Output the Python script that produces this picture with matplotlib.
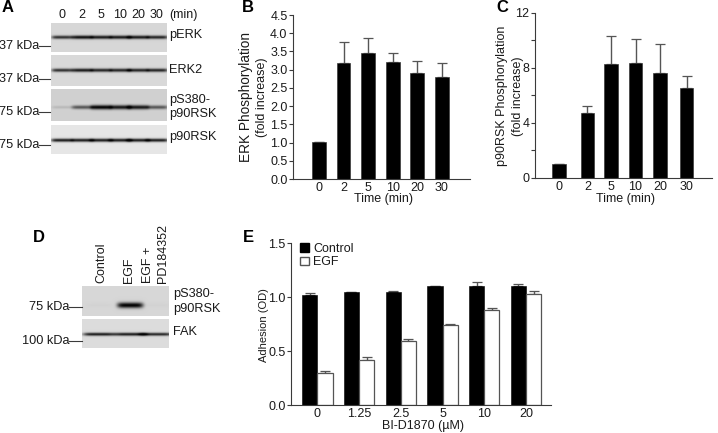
import numpy as np
import matplotlib
matplotlib.use('Agg')
import matplotlib.pyplot as plt
from matplotlib.patches import Patch

plt.rcParams['font.family'] = ['Liberation Sans', 'DejaVu Sans']
plt.rcParams['font.size'] = 9
plt.rcParams['mathtext.default'] = 'regular'

W, H = 718, 433
AXC = '#3a3a3a'
ERRC = '#555555'
TXT = '#1a1a1a'

# panel B
times = ['0', '2', '5', '10', '20', '30']
erk_vals = [1.01, 3.17, 3.47, 3.22, 2.92, 2.79]
erk_tops = [1.01, 3.75, 3.88, 3.47, 3.25, 3.17]
erk_ticks = [0.0, 0.5, 1.0, 1.5, 2.0, 2.5, 3.0, 3.5, 4.0, 4.5]

# panel C
rsk_x = [0, 1.16, 2.12, 3.12, 4.12, 5.2]
rsk_vals = [1.0, 4.7, 8.26, 8.38, 7.63, 6.55]
rsk_tops = [1.0, 5.24, 10.34, 10.07, 9.7, 7.44]

# panel E
doses = ['0', '1.25', '2.5', '5', '10', '20']
ctrl_vals = [1.02, 1.05, 1.05, 1.10, 1.10, 1.10]
ctrl_tops = [1.04, 1.05, 1.06, 1.10, 1.14, 1.12]
egf_vals = [0.294, 0.418, 0.591, 0.74, 0.876, 1.03]
egf_tops = [0.313, 0.446, 0.61, 0.752, 0.898, 1.059]

# blots, band strength per lane (0-1)
lanes_a = [62, 82, 101, 120, 138, 157]
perk = [0.8, 0.95, 0.9, 0.9, 0.9, 0.85]
erk2 = [0.8, 0.9, 0.85, 0.85, 0.85, 0.85]
ps380 = [0.12, 0.6, 1.0, 0.9, 0.9, 0.6]
p90 = [0.9, 0.9, 0.9, 0.9, 0.9, 0.9]
lanes_d = [99, 130, 156]
ps380_d = [0.02, 1.0, 0.02]
fak = [0.9, 0.9, 0.85]


def px_axes(fig, left, right, top, bottom):
    return fig.add_axes([left / W, 1 - bottom / H, (right - left) / W, (bottom - top) / H])


def style(ax):
    ax.patch.set_alpha(0)
    ax.spines['top'].set_visible(False)
    ax.spines['right'].set_visible(False)
    for s in ['left', 'bottom']:
        ax.spines[s].set_color(AXC)
        ax.spines[s].set_linewidth(0.8)
    ax.tick_params(axis='y', length=3, width=0.8, color=AXC, pad=1, labelsize=9, labelcolor=TXT)
    ax.tick_params(axis='x', length=0, pad=2, labelsize=9, labelcolor=TXT)


def errs(ax, x, vals, tops, cap):
    up = np.array(tops) - np.array(vals)
    ax.errorbar(x, vals, yerr=[np.zeros(len(up)), up], fmt='none', ecolor=ERRC,
                elinewidth=1, capsize=cap, capthick=0.9, zorder=1)


def blot(ov, left, right, top, bottom, lanes, strength, band_y, halfw, thick, bg):
    # build a soft band image from the lane strengths
    xs = np.arange(left, right, 0.5)
    ys = np.arange(top, bottom, 0.5)
    img = np.full((len(ys), len(xs)), bg, dtype=float)
    for lane, s in zip(lanes, strength):
        prof_x = np.exp(-((xs - lane) / halfw) ** 6)
        prof_y = np.exp(-((ys - band_y) / (thick * (0.6 + 0.4 * s))) ** 2)
        img -= np.outer(prof_y, prof_x) * s * bg
    ov.imshow(np.clip(img, 0, 1), cmap='gray', vmin=0, vmax=1, extent=[left, right, bottom, top],
              aspect='auto', interpolation='bilinear')


fig = plt.figure(figsize=(W / 100, H / 100), dpi=100)
ov = fig.add_axes([0, 0, 1, 1])
ov.axis('off')

# panel A
blot(ov, 51, 167, 23, 52, lanes_a, perk, 37, 10.5, 1.8, 0.84)
blot(ov, 51, 167, 55, 86, lanes_a, erk2, 70, 10.5, 1.8, 0.85)
blot(ov, 51, 167, 89, 121, lanes_a, ps380, 107, 10.5, 2.2, 0.82)
blot(ov, 51, 167, 125, 154, lanes_a, p90, 140, 11, 1.7, 0.9)
for x, t in zip(lanes_a, times):
    ov.text(x, 15, t, ha='center', va='center', fontsize=9, color=TXT)
ov.text(169, 15, '(min)', ha='left', va='center', fontsize=9, color=TXT)
for y, lab in zip([46, 79, 112, 145], ['37 kDa', '37 kDa', '75 kDa', '75 kDa']):
    ov.text(39, y, lab, ha='right', va='center', fontsize=9.2, color=TXT)
    ov.plot([39, 50], [y, y], color=AXC, lw=0.8)
for y, lab in zip([35, 70, 100, 114, 137], ['pERK', 'ERK2', 'pS380-', 'p90RSK', 'p90RSK']):
    ov.text(169, y, lab, ha='left', va='center', fontsize=9.2, color=TXT)

# panel D
blot(ov, 82, 169, 286, 316, lanes_d, ps380_d, 305, 13, 2.8, 0.84)
blot(ov, 82, 169, 319, 348, lanes_d, fak, 334, 16, 1.6, 0.86)
ov.text(101, 283, 'Control', rotation=90, ha='center', va='bottom', fontsize=9, color=TXT)
ov.text(129, 283, 'EGF', rotation=90, ha='center', va='bottom', fontsize=9, color=TXT)
ov.text(148, 283, 'EGF +', rotation=90, ha='center', va='bottom', fontsize=9, color=TXT)
ov.text(163, 283, 'PD184352', rotation=90, ha='center', va='bottom', fontsize=9, color=TXT)
for y, lab in zip([307, 341], ['75 kDa', '100 kDa']):
    ov.text(69, y, lab, ha='right', va='center', fontsize=9.2, color=TXT)
    ov.plot([69, 82], [y, y], color=AXC, lw=0.8)
for y, lab in zip([294, 309, 332], ['pS380-', 'p90RSK', 'FAK']):
    ov.text(173, y, lab, ha='left', va='center', fontsize=9.2, color=TXT)

# panel letters
for x, y, lab in [(2, 8, 'A'), (242, 7, 'B'), (496, 7, 'C'), (33, 237, 'D'), (243, 238, 'E')]:
    ov.text(x, y, lab, ha='left', va='center', fontsize=12, fontweight='bold', color='black')

# axis labels as free text
ov.text(246, 97, 'ERK Phosphorylation', rotation=90, ha='center', va='center', fontsize=9.8, color=TXT)
ov.text(262, 97, '(fold increase)', rotation=90, ha='center', va='center', fontsize=9, color=TXT)
ov.text(383, 199, 'Time (min)', ha='center', va='center', fontsize=9, color=TXT)
ov.text(502, 96, 'p90RSK Phosphorylation', rotation=90, ha='center', va='center', fontsize=9, color=TXT)
ov.text(517.5, 96, '(fold increase)', rotation=90, ha='center', va='center', fontsize=9, color=TXT)
ov.text(626, 199, 'Time (min)', ha='center', va='center', fontsize=9, color=TXT)
ov.text(264, 325, 'Adhesion (OD)', rotation=90, ha='center', va='center', fontsize=8, color=TXT)
ov.text(423, 426, 'BI-D1870 (µM)', ha='center', va='center', fontsize=9, color=TXT)

ov.set_xlim(0, W)
ov.set_ylim(H, 0)

# panel B chart
axb = px_axes(fig, 293, 470, 15, 179)
style(axb)
x = np.arange(len(times))
errs(axb, x, erk_vals, erk_tops, 3.5)
axb.bar(x, erk_vals, width=0.56, color='black', edgecolor=AXC, linewidth=0.5, zorder=2)
axb.set_xlim(-1.057, 6.14)
axb.set_ylim(0, 4.5)
axb.set_yticks(erk_ticks)
axb.set_yticklabels(['%.1f' % v for v in erk_ticks])
axb.set_xticks(x)
axb.set_xticklabels(times)

# panel C chart
axc = px_axes(fig, 535, 712, 12.7, 178)
style(axc)
errs(axc, rsk_x, rsk_vals, rsk_tops, 3.5)
axc.bar(rsk_x, rsk_vals, width=0.54, color='black', edgecolor=AXC, linewidth=0.5, zorder=2)
axc.set_xlim(-0.98, 6.24)
axc.set_ylim(0, 12)
axc.set_yticks([0, 4, 8, 12])
axc.set_yticks([2, 6, 10], minor=True)
axc.tick_params(axis='y', which='minor', length=3, width=0.8, color=AXC)
axc.set_xticks(rsk_x)
axc.set_xticklabels(times)

# panel E chart
axe = px_axes(fig, 291, 551, 243, 405)
style(axe)
xe = np.arange(len(doses))
bw = 0.365
errs(axe, xe - bw / 2, ctrl_vals, ctrl_tops, 3.5)
errs(axe, xe + bw / 2, egf_vals, egf_tops, 3.5)
axe.bar(xe - bw / 2, ctrl_vals, width=bw, color='black', edgecolor='black', linewidth=0.4, zorder=2)
axe.bar(xe + bw / 2, egf_vals, width=bw, color='white', edgecolor='#555555', linewidth=0.9, zorder=2)
axe.set_xlim(-0.632, 5.6)
axe.set_ylim(0, 1.5)
axe.set_yticks([0, 0.5, 1.0, 1.5])
axe.set_yticklabels(['0.0', '0.5', '1.0', '1.5'])
axe.set_xticks(xe)
axe.set_xticklabels(doses)
axe.legend(handles=[Patch(facecolor='black', edgecolor='black', label='Control'),
                    Patch(facecolor='white', edgecolor='#555555', label='EGF')],
           loc='upper left', bbox_to_anchor=(0.035, 1.0), frameon=False, fontsize=9,
           handlelength=0.7, handleheight=0.7, handletextpad=0.35, labelspacing=0.1,
           borderpad=0, borderaxespad=0, labelcolor=TXT)

fig.savefig('out.png', dpi=100)
